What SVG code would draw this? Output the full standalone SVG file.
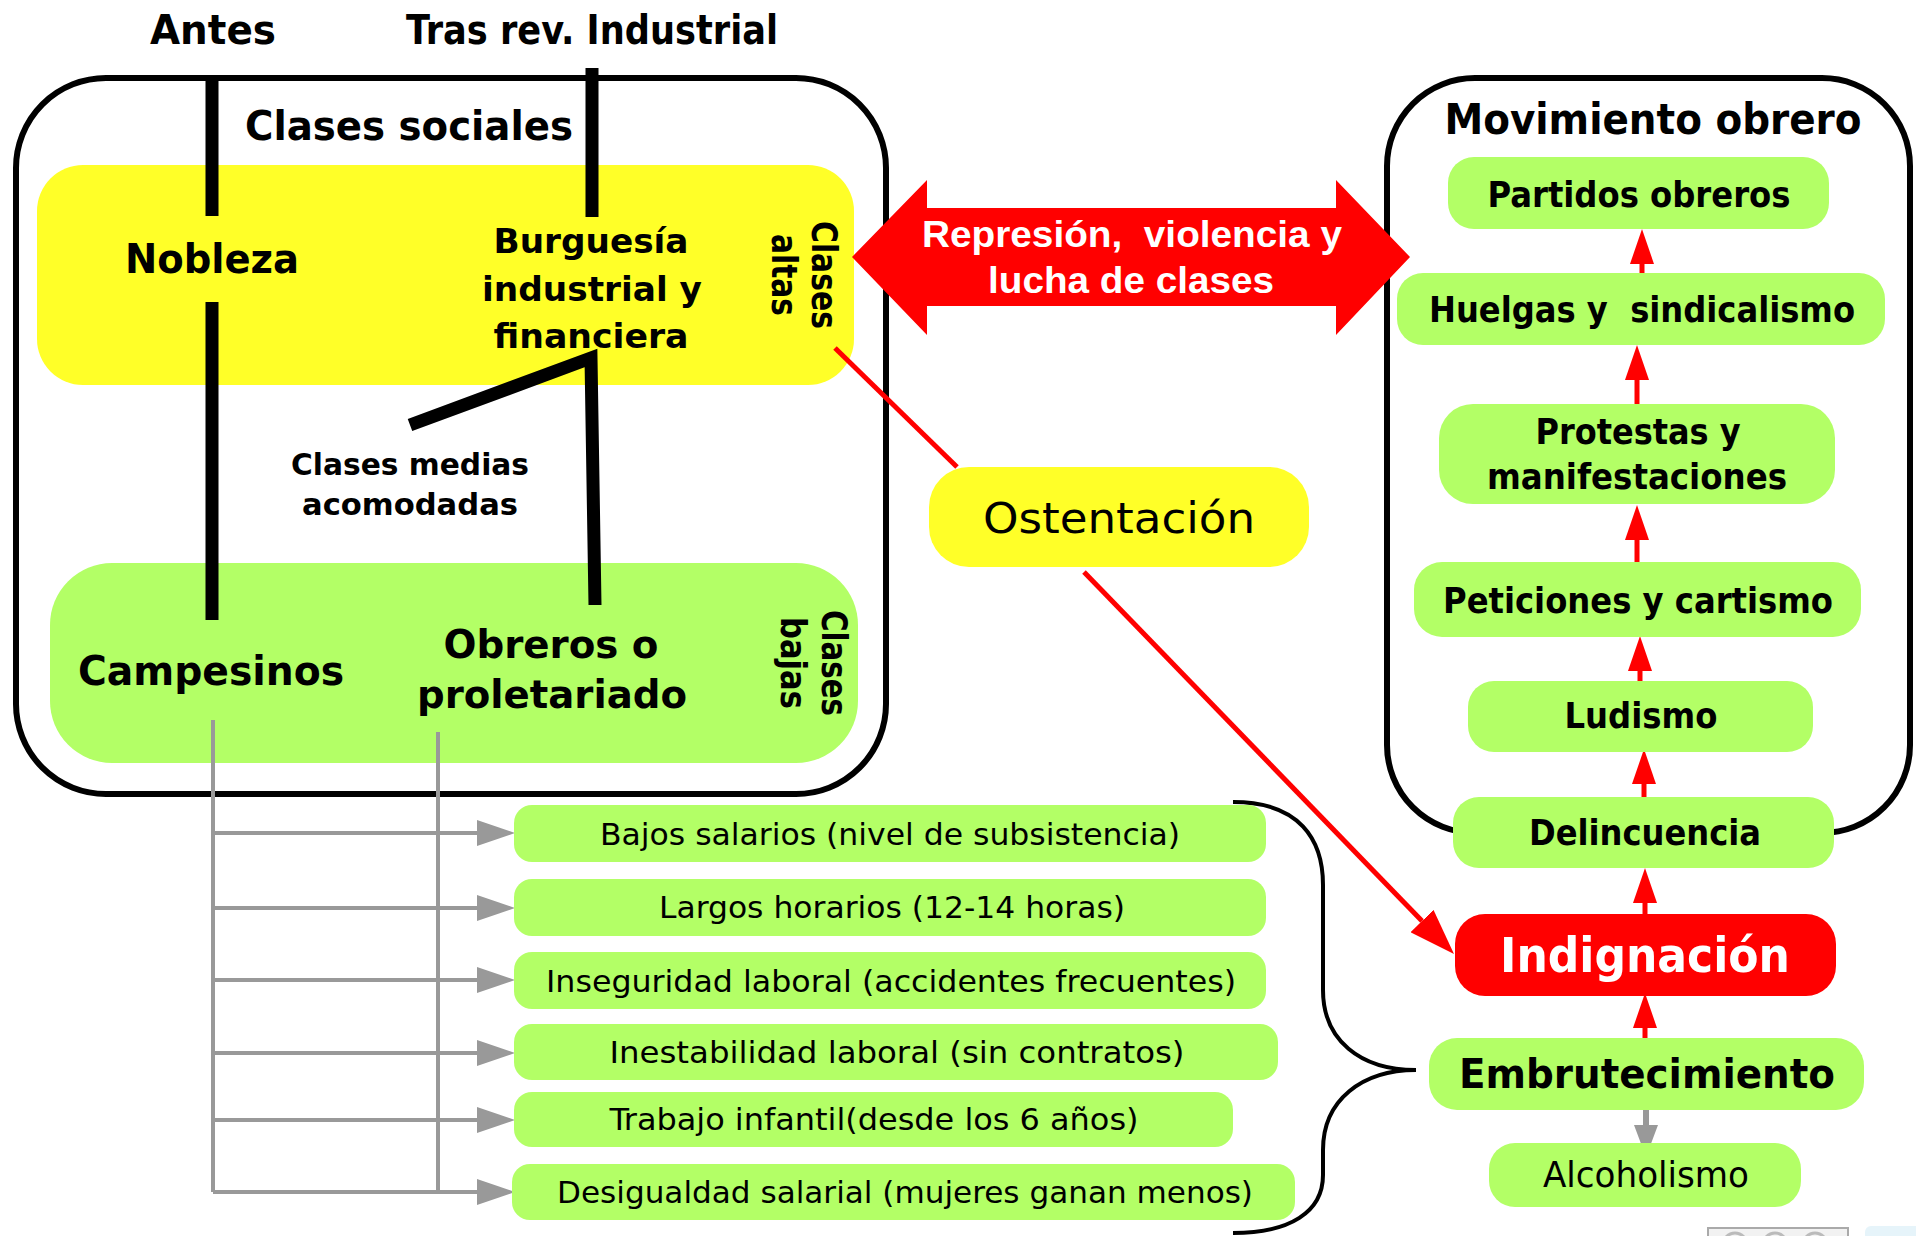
<svg xmlns="http://www.w3.org/2000/svg" width="1916" height="1236" viewBox="0 0 1916 1236">
<style>
.t{font-family:"DejaVu Sans Condensed","DejaVu Sans",sans-serif;font-weight:bold;fill:#000;text-anchor:middle}
.n{font-family:"DejaVu Sans Condensed","DejaVu Sans",sans-serif;font-weight:normal;fill:#000;text-anchor:middle}
.a{font-family:"Liberation Sans",Arial,sans-serif;font-weight:bold;fill:#fff;text-anchor:middle}
.w{fill:#fff}
.g{fill:#b3ff66}
.y{fill:#ffff28}
.frame{fill:none;stroke:#000;stroke-width:6}
.blk{fill:none;stroke:#000;stroke-width:13;stroke-linecap:butt}
.gry{fill:none;stroke:#999;stroke-width:4}
.red{fill:none;stroke:#f00;stroke-width:5}
</style>
<defs>
<marker id="ag" markerUnits="userSpaceOnUse" markerWidth="38" markerHeight="26" refX="0" refY="13" orient="auto"><path d="M0,0 L38,13 L0,26 z" fill="#999"/></marker>
<marker id="agd" markerUnits="userSpaceOnUse" markerWidth="32" markerHeight="24" refX="0" refY="12" orient="auto"><path d="M0,0 L32,12 L0,24 z" fill="#999"/></marker>
<marker id="ar" markerUnits="userSpaceOnUse" markerWidth="35" markerHeight="24" refX="0" refY="12" orient="auto"><path d="M0,0 L35,12 L0,24 z" fill="#f00"/></marker>
<marker id="arb" markerUnits="userSpaceOnUse" markerWidth="46" markerHeight="32" refX="0" refY="16" orient="auto"><path d="M0,0 L46,16 L0,32 z" fill="#f00"/></marker>
</defs>
<rect x="0" y="0" width="1916" height="1236" fill="#fff"/>

<g id="clases-sociales">
<rect class="frame" x="16" y="78" width="870" height="716" rx="90" ry="90"/>
<text class="t" x="409" y="140" font-size="41" textLength="328" lengthAdjust="spacingAndGlyphs">Clases sociales</text>
</g>
<g id="heading-antes"><text class="t" x="213" y="44" font-size="40" textLength="126" lengthAdjust="spacingAndGlyphs">Antes</text></g>
<g id="heading-tras"><text class="t" x="592" y="44" font-size="40" textLength="372" lengthAdjust="spacingAndGlyphs">Tras rev. Industrial</text></g>

<g id="clases-altas">
<rect class="y" x="37" y="165" width="817" height="220" rx="46" ry="46"/>
<text class="t" transform="translate(812,275) rotate(90)" font-size="35" textLength="108" lengthAdjust="spacingAndGlyphs">Clases</text>
<text class="t" transform="translate(772,275) rotate(90)" font-size="35" textLength="82" lengthAdjust="spacingAndGlyphs">altas</text>
</g>
<g id="clases-bajas">
<rect class="g" x="50" y="563" width="808" height="200" rx="62" ry="62"/>
<text class="t" transform="translate(822,663) rotate(90)" font-size="35" textLength="106" lengthAdjust="spacingAndGlyphs">Clases</text>
<text class="t" transform="translate(781,663) rotate(90)" font-size="35" textLength="92" lengthAdjust="spacingAndGlyphs">bajas</text>
</g>
<g id="nobleza"><text class="t" x="212" y="273" font-size="41" textLength="174" lengthAdjust="spacingAndGlyphs">Nobleza</text></g>
<g id="burguesia">
<text class="t" x="591" y="253" font-size="34" textLength="195" lengthAdjust="spacingAndGlyphs">Burguesía</text>
<text class="t" x="592" y="301" font-size="34" textLength="220" lengthAdjust="spacingAndGlyphs">industrial y</text>
<text class="t" x="591" y="348" font-size="34" textLength="195" lengthAdjust="spacingAndGlyphs">financiera</text>
</g>
<g id="clases-medias">
<text class="t" x="410" y="475" font-size="30" textLength="238" lengthAdjust="spacingAndGlyphs">Clases medias</text>
<text class="t" x="410" y="515" font-size="30" textLength="216" lengthAdjust="spacingAndGlyphs">acomodadas</text>
</g>
<g id="campesinos"><text class="t" x="211" y="685" font-size="41" textLength="266" lengthAdjust="spacingAndGlyphs">Campesinos</text></g>
<g id="obreros">
<text class="t" x="551" y="658" font-size="39" textLength="215" lengthAdjust="spacingAndGlyphs">Obreros o</text>
<text class="t" x="552" y="708" font-size="39" textLength="270" lengthAdjust="spacingAndGlyphs">proletariado</text>
</g>

<g id="movimiento-obrero">
<rect class="frame" x="1387" y="78" width="523" height="755" rx="88" ry="88"/>
<text class="t" x="1653" y="134" font-size="42" textLength="417" lengthAdjust="spacingAndGlyphs">Movimiento obrero</text>
</g>

<g id="connectors">
<path class="blk" d="M212,75 V216"/>
<path class="blk" d="M212,302 V620"/>
<path class="blk" d="M592,68 V217"/>
<path class="blk" d="M410,425 L591,358 L595,605" stroke-linejoin="miter"/>
<path class="gry" d="M213,720 V1192"/>
<path class="gry" d="M438,732 V1192"/>
<path class="gry" d="M213,833 H477" marker-end="url(#ag)"/>
<path class="gry" d="M213,908 H477" marker-end="url(#ag)"/>
<path class="gry" d="M213,980 H477" marker-end="url(#ag)"/>
<path class="gry" d="M213,1053 H477" marker-end="url(#ag)"/>
<path class="gry" d="M213,1120 H477" marker-end="url(#ag)"/>
<path class="gry" d="M213,1192 H477" marker-end="url(#ag)"/>
<path d="M1233,802 C1300,802 1323,840 1323,885 L1323,990 C1323,1040 1360,1070 1416,1070 C1362,1070 1323,1100 1323,1150 L1323,1175 C1323,1212 1290,1233 1233,1233" fill="none" stroke="#000" stroke-width="4"/>
<path class="red" d="M835,348 L957,467"/>
<path class="red" d="M1084,572 L1422,921" marker-end="url(#arb)"/>
<polygon points="852,257 927,180 927,208 1336,208 1336,180 1410,257 1336,335 1336,306 927,306 927,335" fill="#f00"/>
<path class="red" d="M1642,273 V264" marker-end="url(#ar)"/>
<path class="red" d="M1637,404 V380" marker-end="url(#ar)"/>
<path class="red" d="M1637,563 V540" marker-end="url(#ar)"/>
<path class="red" d="M1640,681 V671" marker-end="url(#ar)"/>
<path class="red" d="M1644,797 V784" marker-end="url(#ar)"/>
<path class="red" d="M1645,914 V903" marker-end="url(#ar)"/>
<path class="red" d="M1645,1038 V1028" marker-end="url(#ar)"/>
<path d="M1646,1110 V1125" fill="none" stroke="#999" stroke-width="6" marker-end="url(#agd)"/>
</g>

<g id="represion">
<text class="a" x="1132" y="247" font-size="36" textLength="420" lengthAdjust="spacingAndGlyphs">Represión,&#160; violencia y</text>
<text class="a" x="1131" y="293" font-size="36" textLength="286" lengthAdjust="spacingAndGlyphs">lucha de clases</text>
</g>

<g id="ostentacion">
<rect class="y" x="929" y="467" width="380" height="100" rx="40" ry="40"/>
<text class="n" x="1119" y="533" font-size="43" textLength="272" lengthAdjust="spacingAndGlyphs">Ostentación</text>
</g>

<g id="partidos">
<rect class="g" x="1448" y="157" width="381" height="72" rx="26"/>
<text class="t" x="1639" y="207" font-size="35" textLength="303" lengthAdjust="spacingAndGlyphs">Partidos obreros</text>
</g>
<g id="huelgas">
<rect class="g" x="1397" y="273" width="488" height="72" rx="26"/>
<text class="t" x="1642" y="322" font-size="35" textLength="426" lengthAdjust="spacingAndGlyphs">Huelgas y&#160; sindicalismo</text>
</g>
<g id="protestas">
<rect class="g" x="1439" y="404" width="396" height="100" rx="34"/>
<text class="t" x="1638" y="444" font-size="35" textLength="205" lengthAdjust="spacingAndGlyphs">Protestas y</text>
<text class="t" x="1637" y="489" font-size="35" textLength="300" lengthAdjust="spacingAndGlyphs">manifestaciones</text>
</g>
<g id="peticiones">
<rect class="g" x="1414" y="562" width="447" height="75" rx="28"/>
<text class="t" x="1638" y="613" font-size="35" textLength="390" lengthAdjust="spacingAndGlyphs">Peticiones y cartismo</text>
</g>
<g id="ludismo">
<rect class="g" x="1468" y="681" width="345" height="71" rx="26"/>
<text class="t" x="1641" y="728" font-size="35" textLength="153" lengthAdjust="spacingAndGlyphs">Ludismo</text>
</g>
<g id="delincuencia">
<rect class="g" x="1453" y="797" width="381" height="71" rx="26"/>
<text class="t" x="1645" y="845" font-size="35" textLength="232" lengthAdjust="spacingAndGlyphs">Delincuencia</text>
</g>
<g id="indignacion">
<rect x="1455" y="914" width="381" height="82" rx="30" fill="#f00"/>
<text class="t" x="1645" y="972" font-size="48" fill="#fff" style="fill:#fff" textLength="290" lengthAdjust="spacingAndGlyphs">Indignación</text>
</g>
<g id="embrutecimiento">
<rect class="g" x="1429" y="1038" width="435" height="72" rx="28"/>
<text class="t" x="1647" y="1088" font-size="41" textLength="376" lengthAdjust="spacingAndGlyphs">Embrutecimiento</text>
</g>
<g id="alcoholismo">
<rect class="g" x="1489" y="1143" width="312" height="64" rx="26"/>
<text class="n" x="1646" y="1187" font-size="35" textLength="206" lengthAdjust="spacingAndGlyphs">Alcoholismo</text>
</g>

<g id="bajos-salarios">
<rect class="g" x="514" y="805" width="752" height="57" rx="18"/>
<text class="n" x="890" y="845" font-size="31" textLength="580" lengthAdjust="spacingAndGlyphs">Bajos salarios (nivel de subsistencia)</text>
</g>
<g id="largos-horarios">
<rect class="g" x="514" y="879" width="752" height="57" rx="18"/>
<text class="n" x="892" y="918" font-size="31" textLength="466" lengthAdjust="spacingAndGlyphs">Largos horarios (12-14 horas)</text>
</g>
<g id="inseguridad">
<rect class="g" x="514" y="952" width="752" height="57" rx="18"/>
<text class="n" x="891" y="992" font-size="31" textLength="690" lengthAdjust="spacingAndGlyphs">Inseguridad laboral (accidentes frecuentes)</text>
</g>
<g id="inestabilidad">
<rect class="g" x="514" y="1024" width="764" height="56" rx="18"/>
<text class="n" x="897" y="1063" font-size="31" textLength="575" lengthAdjust="spacingAndGlyphs">Inestabilidad laboral (sin contratos)</text>
</g>
<g id="trabajo-infantil">
<rect class="g" x="514" y="1092" width="719" height="55" rx="18"/>
<text class="n" x="874" y="1130" font-size="31" textLength="529" lengthAdjust="spacingAndGlyphs">Trabajo infantil(desde los 6 años)</text>
</g>
<g id="desigualdad">
<rect class="g" x="512" y="1164" width="783" height="56" rx="18"/>
<text class="n" x="905" y="1203" font-size="31" textLength="696" lengthAdjust="spacingAndGlyphs">Desigualdad salarial (mujeres ganan menos)</text>
</g>

<g id="badge">
<rect x="1708" y="1228" width="140" height="14" fill="#f2f2f2" stroke="#aaa" stroke-width="2"/>
<circle cx="1735" cy="1245" r="12" fill="none" stroke="#bbb" stroke-width="3"/>
<circle cx="1775" cy="1245" r="12" fill="none" stroke="#bbb" stroke-width="3"/>
<circle cx="1815" cy="1245" r="12" fill="none" stroke="#bbb" stroke-width="3"/>
<rect x="1865" y="1226" width="60" height="20" rx="6" fill="#e6f4fa"/>
</g>
</svg>
